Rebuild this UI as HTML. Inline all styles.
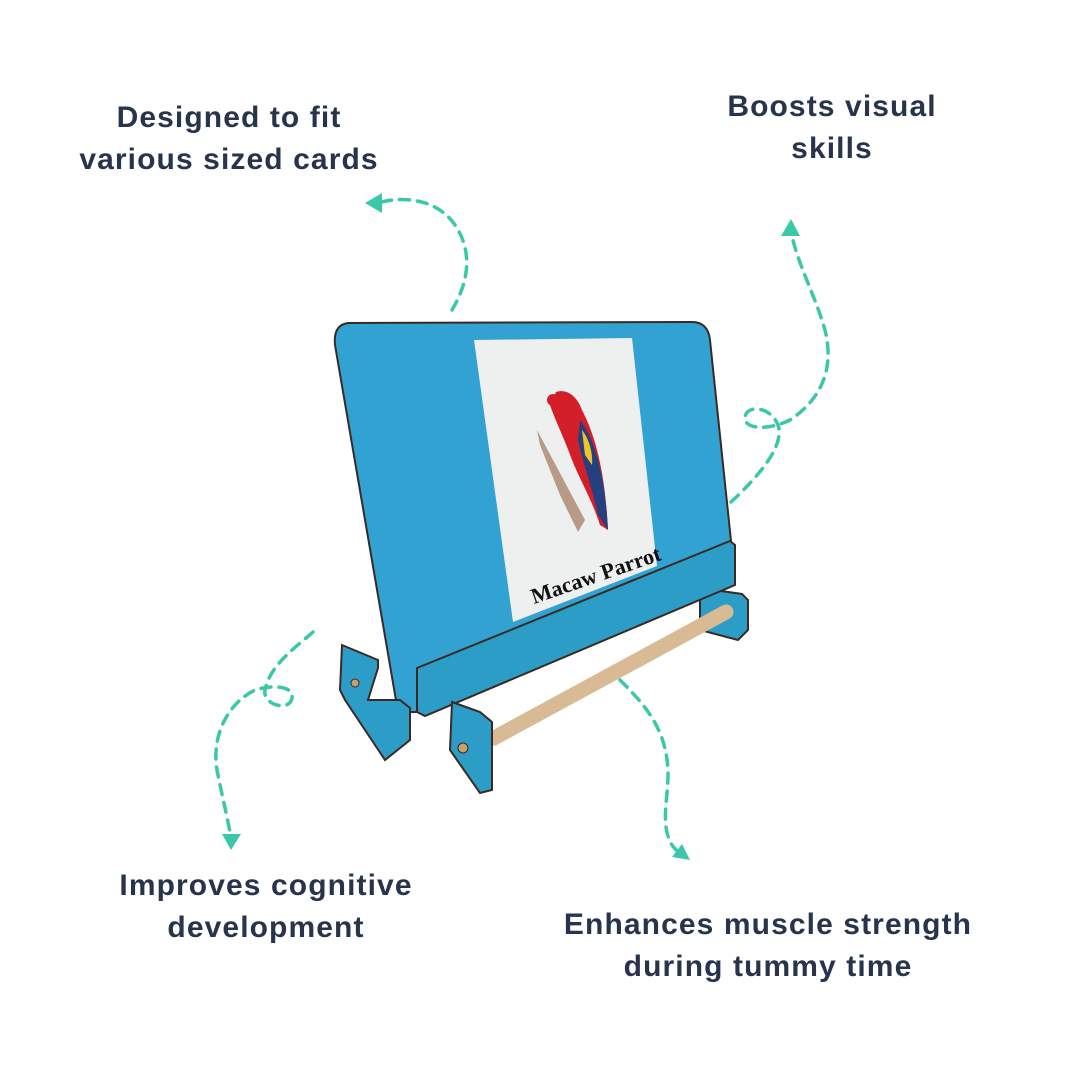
<!DOCTYPE html>
<html><head><meta charset="utf-8"><style>
html,body{margin:0;padding:0;background:#fff;}
body{width:1080px;height:1080px;position:relative;overflow:hidden;font-family:"Liberation Sans",sans-serif;}
.t{position:absolute;font-weight:bold;color:#27344c;font-size:30px;line-height:42px;text-align:center;white-space:nowrap;transform:translateX(-50%);letter-spacing:1.1px;}
svg{position:absolute;left:0;top:0;}
</style></head><body>
<svg width="1080" height="1080" viewBox="0 0 1080 1080">
<g fill="none" stroke="#3cc7a8" stroke-width="3.5" stroke-dasharray="10 8" stroke-linecap="round">
<path d="M452 310 C470 280 472 250 455 225 C438 200 405 195 378 203"/>
<path d="M731 502 C760 475 785 445 778 425 C770 405 745 405 745 418 C745 430 770 430 790 420 C820 400 835 370 825 330 C815 295 798 265 791 232"/>
<path d="M313 632 C295 648 270 665 265 690 C262 705 290 712 292 698 C294 685 270 685 255 690 C225 705 210 740 218 775 C223 800 228 820 231 838"/>
<path d="M620 680 C645 705 668 730 668 775 C668 800 660 825 672 845 C676 851 680 853 683 855"/>
</g>
<g fill="#3cc7a8">
<polygon points="365,203 382,193 382,213"/>
<polygon points="791,219 781,236 800,236"/>
<polygon points="231,850 222,834 241,834"/>
<polygon points="690,860 672,857 682,844"/>
</g>
<!-- back right foot -->
<polygon points="700,588 742,594 748,600 748,630 738,640 700,630" fill="#2b9dc6" stroke="#3a2a22" stroke-width="2"/>
<!-- board -->
<path d="M348 323 L692 322 Q708 322 710 340 L733 560 L420 712 L398 712 L335 345 Q333 325 348 323 Z" fill="#31a2d2" stroke="#3a2a22" stroke-width="2"/>
<!-- card -->
<polygon points="474,340 632,338 657,566 513,622" fill="#eef0ef"/>
<!-- parrot -->
<path d="M537 430 L585 520 L578 532 L560 495 L540 445 Z" fill="#b89a86"/>
<path d="M556 392 C568 388 578 398 582 410 C595 435 605 470 608 530 L600 525 C592 500 580 480 572 460 C565 440 555 420 550 405 Z" fill="#d31f2a"/>
<path d="M580 420 C595 440 605 475 608 530 L598 515 C590 480 582 460 578 440 Z" fill="#24407f"/>
<path d="M582 430 C590 440 593 455 592 465 L585 455 Z" fill="#f1c22a"/>
<circle cx="553" cy="400" r="6" fill="#d31f2a"/>
<text x="0" y="0" transform="translate(534,604) rotate(-19)" font-family="Liberation Serif,serif" font-weight="bold" font-size="22" fill="#111">Macaw Parrot</text>
<!-- front rail -->
<polygon points="417,668 730,541 735,545 735,585 425,716 417,712" fill="#2b9dc6" stroke="#3a2a22" stroke-width="2"/>
<!-- dowel -->
<line x1="494" y1="738" x2="726" y2="612" stroke="#d8bb95" stroke-width="15" stroke-linecap="round"/>
<!-- left foot -->
<polygon points="342,645 378,660 378,668 368,700 400,700 410,708 410,740 385,760 345,700 340,690" fill="#2b9dc6" stroke="#3a2a22" stroke-width="2"/>
<circle cx="355" cy="683" r="4" fill="#c8a070" stroke="#3a2a22"/>
<!-- right front foot -->
<polygon points="452,702 480,712 492,722 492,790 480,793 450,750" fill="#2b9dc6" stroke="#3a2a22" stroke-width="2"/>
<circle cx="463" cy="748" r="5" fill="#c8a070" stroke="#3a2a22"/>
</svg>
<div class="t" style="left:229px;top:97px;">Designed to fit<br>various sized cards</div>
<div class="t" style="left:832px;top:86px;">Boosts visual<br>skills</div>
<div class="t" style="left:266px;top:865px;">Improves cognitive<br>development</div>
<div class="t" style="left:768px;top:904px;">Enhances muscle strength<br>during tummy time</div>
</body></html>
